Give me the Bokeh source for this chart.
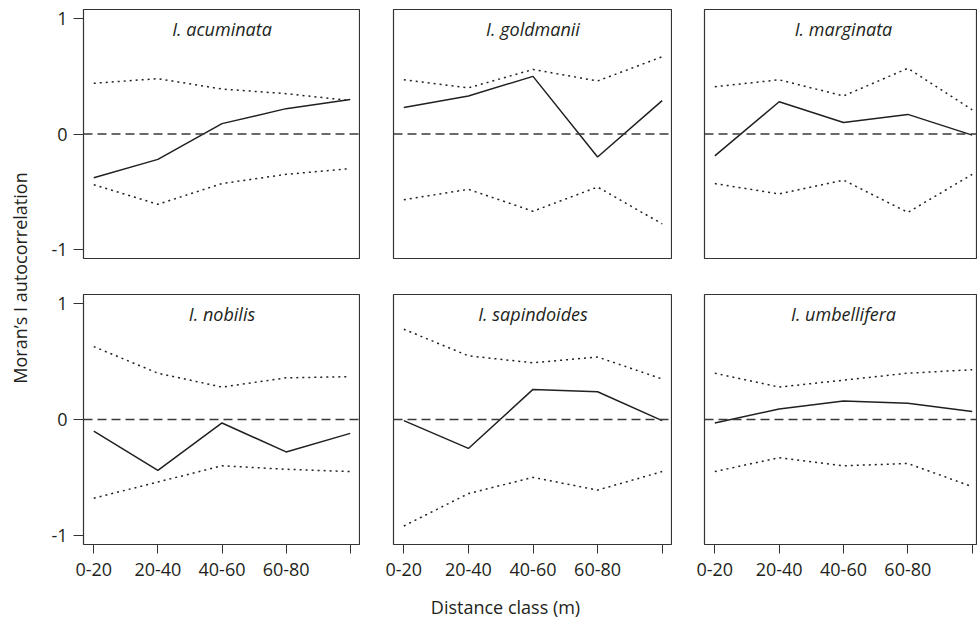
import math
from bokeh.plotting import figure
from bokeh.layouts import row, column
from bokeh.models import Range1d, FixedTicker, Span
from bokeh.core.properties import value
from bokeh.embed import file_html
from bokeh.resources import INLINE

# ---------------- data ----------------
SPECIES = ["I. acuminata", "I. goldmanii", "I. marginata",
           "I. nobilis", "I. sapindoides", "I. umbellifera"]
DISTANCE_CLASSES = ["0-20", "20-40", "40-60", "60-80", "80-100"]
X_IDX = [0, 1, 2, 3, 4]
X_TICK_LABELS = ["0-20", "20-40", "40-60", "60-80", ""]
Y_TICKS = [-1, 0, 1]
Y_TICK_LABELS = ["-1", "0", "1"]
Y_LABEL = "Moran\u2019s I autocorrelation"
X_LABEL = "Distance class (m)"

ACUMINATA_I = [-0.38, -0.22, 0.09, 0.22, 0.30]
ACUMINATA_UPPER = [0.44, 0.48, 0.39, 0.35, 0.29]
ACUMINATA_LOWER = [-0.44, -0.61, -0.43, -0.35, -0.30]

GOLDMANII_I = [0.23, 0.33, 0.50, -0.20, 0.29]
GOLDMANII_UPPER = [0.47, 0.40, 0.56, 0.46, 0.67]
GOLDMANII_LOWER = [-0.57, -0.48, -0.67, -0.46, -0.78]

MARGINATA_I = [-0.19, 0.28, 0.10, 0.17, -0.01]
MARGINATA_UPPER = [0.41, 0.47, 0.33, 0.57, 0.21]
MARGINATA_LOWER = [-0.43, -0.52, -0.40, -0.68, -0.35]

NOBILIS_I = [-0.10, -0.44, -0.03, -0.28, -0.12]
NOBILIS_UPPER = [0.63, 0.40, 0.28, 0.36, 0.37]
NOBILIS_LOWER = [-0.68, -0.54, -0.40, -0.43, -0.45]

SAPINDOIDES_I = [-0.01, -0.25, 0.26, 0.24, -0.01]
SAPINDOIDES_UPPER = [0.78, 0.55, 0.49, 0.54, 0.35]
SAPINDOIDES_LOWER = [-0.92, -0.64, -0.50, -0.61, -0.45]

UMBELLIFERA_I = [-0.03, 0.09, 0.16, 0.14, 0.07]
UMBELLIFERA_UPPER = [0.40, 0.28, 0.34, 0.40, 0.43]
UMBELLIFERA_LOWER = [-0.45, -0.33, -0.40, -0.38, -0.58]

PANELS = [
    (SPECIES[0], ACUMINATA_I, ACUMINATA_UPPER, ACUMINATA_LOWER),
    (SPECIES[1], GOLDMANII_I, GOLDMANII_UPPER, GOLDMANII_LOWER),
    (SPECIES[2], MARGINATA_I, MARGINATA_UPPER, MARGINATA_LOWER),
    (SPECIES[3], NOBILIS_I, NOBILIS_UPPER, NOBILIS_LOWER),
    (SPECIES[4], SAPINDOIDES_I, SAPINDOIDES_UPPER, SAPINDOIDES_LOWER),
    (SPECIES[5], UMBELLIFERA_I, UMBELLIFERA_UPPER, UMBELLIFERA_LOWER),
]

# ---------------- style ----------------
FONT = "Open Sans"
TEXT_COLOR = "#231f20"
LINE_COLOR = "#231f20"
BOX_COLOR = "#333333"
FONT_SIZE = "18px"

X_LO, X_HI = -0.16, 4.16
Y_LO, Y_HI = -1.08, 1.08
TITLE_Y = 0.91

YLAB_W = 38
# per column: (border left, frame width)
COLS = [(45, 277), (33, 279), (32, 273)]
# per row: (border top, frame height, border bottom)
ROWS = [(9, 249, 8), (28, 250, 44)]
TOTAL_H = 619


def make_panel(idx):
    name, vals, upper, lower = PANELS[idx]
    r, c = divmod(idx, 3)
    bl, fw = COLS[c]
    bt, fh, bb = ROWS[r]
    units_per_px = (X_HI - X_LO) / 278.0
    x_end = X_LO + fw * units_per_px if c == 2 else X_HI
    p = figure(width=bl + fw, height=bt + fh + bb,
               x_range=Range1d(X_LO, x_end), y_range=Range1d(Y_LO, Y_HI),
               output_backend="svg", toolbar_location=None, title=None,
               x_axis_location="below" if r == 1 else None,
               y_axis_location="left" if c == 0 else None,
               min_border_left=bl, min_border_right=0,
               min_border_top=bt, min_border_bottom=bb)
    p.grid.visible = False
    p.outline_line_color = BOX_COLOR
    p.outline_line_width = 1.2
    p.background_fill_color = "white"
    p.border_fill_color = "white"

    for ax in p.xaxis:
        ax.ticker = FixedTicker(ticks=X_IDX)
        ax.major_label_overrides = dict(zip(X_IDX, X_TICK_LABELS))
        ax.major_tick_out = 9
        ax.major_tick_in = 0
        ax.major_label_standoff = 9
    for ax in p.yaxis:
        ax.ticker = FixedTicker(ticks=Y_TICKS)
        ax.major_label_overrides = dict(zip(Y_TICKS, Y_TICK_LABELS))
        ax.major_tick_out = 10
        ax.major_tick_in = 0
        ax.major_label_standoff = 6
    for ax in p.axis:
        ax.axis_line_color = None
        ax.minor_tick_line_color = None
        ax.major_tick_line_color = BOX_COLOR
        ax.major_tick_line_width = 1
        ax.major_label_text_font = FONT
        ax.major_label_text_font_size = FONT_SIZE
        ax.major_label_text_color = TEXT_COLOR

    p.add_layout(Span(location=0, dimension="width", line_color="#3a3a3a",
                      line_width=1.3, line_dash="9 5"))
    p.line(X_IDX, upper, line_color=LINE_COLOR, line_width=1.5, line_dash="2 4")
    p.line(X_IDX, lower, line_color=LINE_COLOR, line_width=1.5, line_dash="2 4")
    p.line(X_IDX, vals, line_color=LINE_COLOR, line_width=1.5)
    p.text(x=[(X_IDX[0] + X_IDX[-1]) / 2], y=[TITLE_Y], text=[name],
           text_font=value(FONT), text_font_style="italic",
           text_font_size=FONT_SIZE, text_color=TEXT_COLOR,
           text_align="center", text_baseline="alphabetic")
    return p


panels = [make_panel(i) for i in range(6)]

# y-axis label strip
ylab = figure(width=YLAB_W, height=TOTAL_H, x_range=Range1d(0, YLAB_W),
              y_range=Range1d(0, TOTAL_H), output_backend="svg",
              toolbar_location=None, title=None, x_axis_location=None,
              y_axis_location=None, min_border=0)
ylab.grid.visible = False
ylab.outline_line_color = None
ylab.text(x=[19], y=[TOTAL_H - 277.5], text=[Y_LABEL], angle=math.pi / 2,
          text_font=value(FONT), text_font_size=FONT_SIZE, text_color=TEXT_COLOR,
          text_align="center", text_baseline="middle")

# x-axis label strip
grid_w = sum(bl + fw for bl, fw in COLS)
xlab_h = TOTAL_H - sum(bt + fh + bb for bt, fh, bb in ROWS)
xlab = figure(width=grid_w, height=xlab_h, x_range=Range1d(0, grid_w),
              y_range=Range1d(0, xlab_h), output_backend="svg",
              toolbar_location=None, title=None, x_axis_location=None,
              y_axis_location=None, min_border=0)
xlab.grid.visible = False
xlab.outline_line_color = None
xlab.text(x=[505 - YLAB_W], y=[13], text=[X_LABEL],
          text_font=value(FONT), text_font_size=FONT_SIZE, text_color=TEXT_COLOR,
          text_align="center", text_baseline="middle")

layout = row(ylab, column(row(*panels[:3]), row(*panels[3:]), xlab))

open("out.html", "w").write(file_html(layout, INLINE))
